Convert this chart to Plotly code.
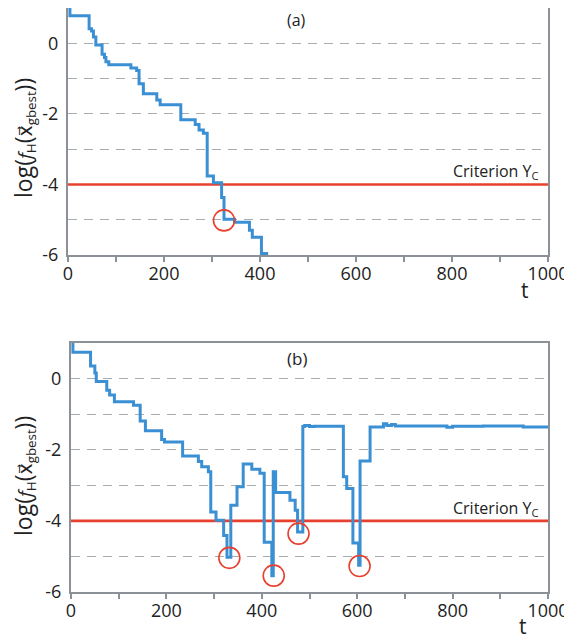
import plotly.graph_objects as go

# ---- data ----
top_t = [4, 4, 44, 49, 53, 58, 71, 76, 79, 85, 131, 143, 148, 157, 185, 192, 235, 265, 273, 282,
         290, 303, 320, 325, 347, 378, 384, 403, 417]
top_y = [1.0, 0.78, 0.41, 0.35, 0.18, -0.05, -0.31, -0.40, -0.52, -0.61, -0.70, -0.77, -1.15, -1.43,
         -1.61, -1.74, -2.17, -2.30, -2.46, -2.55, -3.76, -3.95, -4.37, -4.99, -5.07, -5.30, -5.50,
         -5.96, -5.96]

bot_t = [4, 4, 41, 50, 53, 75, 81, 91, 131, 145, 156, 190, 196, 234, 267, 274, 288, 293, 304, 320,
         327, 335, 348, 361, 379, 396, 405, 421, 424, 429, 459, 470, 475, 486, 490, 500, 510, 571,
         578, 591, 603, 606, 627, 655, 662, 672, 680, 788, 800, 864, 948, 1000]
bot_y = [1.0, 0.74, 0.35, 0.16, -0.08, -0.33, -0.46, -0.65, -0.75, -1.19, -1.47, -1.71, -1.78, -2.18,
         -2.33, -2.48, -2.62, -3.75, -3.98, -4.41, -5.02, -3.56, -3.04, -2.40, -2.55, -2.66, -4.60,
         -5.54, -2.62, -3.20, -3.42, -3.70, -4.31, -1.35, -1.32, -1.35, -1.34, -2.76, -3.09, -4.62,
         -5.25, -2.32, -1.36, -1.27, -1.32, -1.29, -1.33, -1.37, -1.34, -1.33, -1.36, -1.36]

top_circle_t = [325]
top_circle_y = [-5.02]
bot_circle_t = [332, 425, 477, 605]
bot_circle_y = [-5.04, -5.54, -4.36, -5.27]

criterion = -4
x_ticks = [0, 200, 400, 600, 800, 1000]
y_ticks = [-6, -4, -2, 0]
y_tick_labels = ["-6", "-4", "-2", "0"]

# ---- style ----
# the page body has an 8px margin, so the figure is drawn 8px right/down
OFF = 8
W, H = 572 - OFF, 641 - OFF
BLUE = "#3b8fd3"
RED = "#e8402e"
AXC = "#8b9196"
GRIDC = "#a9acaf"
FONT = "Open Sans"
TXT = "#222222"

def px(x):
    return (x - OFF) / W

def py(y):
    return 1 - (y - OFF) / H

fig = go.Figure()

for (t, y, ct, cy, xa, ya) in [(top_t, top_y, top_circle_t, top_circle_y, "x", "y"),
                               (bot_t, bot_y, bot_circle_t, bot_circle_y, "x2", "y2")]:
    fig.add_trace(go.Scatter(x=[0, 1000], y=[criterion, criterion], mode="lines",
                             line=dict(color=RED, width=2.6), xaxis=xa, yaxis=ya,
                             showlegend=False, hoverinfo="skip"))
    fig.add_trace(go.Scatter(x=t, y=y, mode="lines", line=dict(color=BLUE, width=3, shape="hv"),
                             xaxis=xa, yaxis=ya, showlegend=False))
    fig.add_trace(go.Scatter(x=ct, y=cy, mode="markers",
                             marker=dict(symbol="circle-open", size=21, color=RED,
                                         line=dict(color=RED, width=1.6)),
                             xaxis=xa, yaxis=ya, showlegend=False))

def xax(domain, anchor):
    return dict(domain=domain, anchor=anchor, range=[0, 1000], tickvals=x_ticks,
                ticks="outside", ticklen=5, tickwidth=1.5, tickcolor=AXC,
                minor=dict(dtick=100, tick0=0, ticks="outside", ticklen=5, tickwidth=1.5, tickcolor=AXC),
                showline=True, linecolor=AXC, linewidth=2.2, mirror=True, showgrid=False,
                zeroline=False, automargin=False,
                tickfont=dict(family=FONT, size=18, color=TXT), ticklabelstandoff=-4)

def yax(domain, anchor):
    return dict(domain=domain, anchor=anchor, range=[-6, 1], tickvals=y_ticks, ticktext=y_tick_labels,
                ticks="", showline=True, linecolor=AXC, linewidth=2.2, mirror=True,
                showgrid=True, gridcolor=GRIDC, gridwidth=1.4, griddash="9px,7px",
                minor=dict(dtick=1, tick0=0, showgrid=True, gridcolor=GRIDC, gridwidth=1.4,
                           griddash="9px,7px"),
                zeroline=False, automargin=False,
                tickfont=dict(family=FONT, size=18, color=TXT), ticklabelstandoff=4)

fig.update_layout(
    width=W, height=H, margin=dict(l=0, r=0, t=0, b=0),
    paper_bgcolor="white", plot_bgcolor="white",
    xaxis=xax([px(68), px(548)], "y"),
    yaxis=yax([py(255), 1.0], "x"),
    xaxis2=xax([px(71), px(548)], "y2"),
    yaxis2=yax([py(592), py(343)], "x2"),
)

ytitle = ("<span style='font-size:23px'>log(</span><i>f</i><sub>H</sub>"
          "<span style='font-size:23px'>(</span>"
          "<span style='font-family:DejaVu Sans'>x\u20d7</span><sub>gbest</sub>"
          "<span style='font-size:23px'>))</span>")
ann = [
    dict(x=px(23), y=py(138), text=ytitle, textangle=-90, font=dict(family=FONT, size=19, color=TXT)),
    dict(x=px(23), y=py(476), text=ytitle, textangle=-90, font=dict(family=FONT, size=19, color=TXT)),
    dict(x=px(296), y=py(8), text="(a)", yanchor="top", borderpad=0,
         font=dict(family=FONT, size=16, color=TXT)),
    dict(x=px(297), y=py(358), text="(b)", font=dict(family=FONT, size=17, color=TXT)),
    dict(x=px(525), y=py(290), text="t", font=dict(family=FONT, size=21, color=TXT)),
    dict(x=px(523), y=py(626), text="t", font=dict(family=FONT, size=21, color=TXT)),
    dict(x=px(541), y=py(172), text="Criterion Y<sub>C</sub>", xanchor="right",
         font=dict(family=FONT, size=16, color=TXT)),
    dict(x=px(541), y=py(508), text="Criterion Y<sub>C</sub>", xanchor="right",
         font=dict(family=FONT, size=16, color=TXT)),
]
for a in ann:
    a.update(xref="paper", yref="paper", showarrow=False)
    a.setdefault("xanchor", "center")
    a.setdefault("yanchor", "middle")
fig.update_layout(annotations=ann)

fig.write_html("out.html")
